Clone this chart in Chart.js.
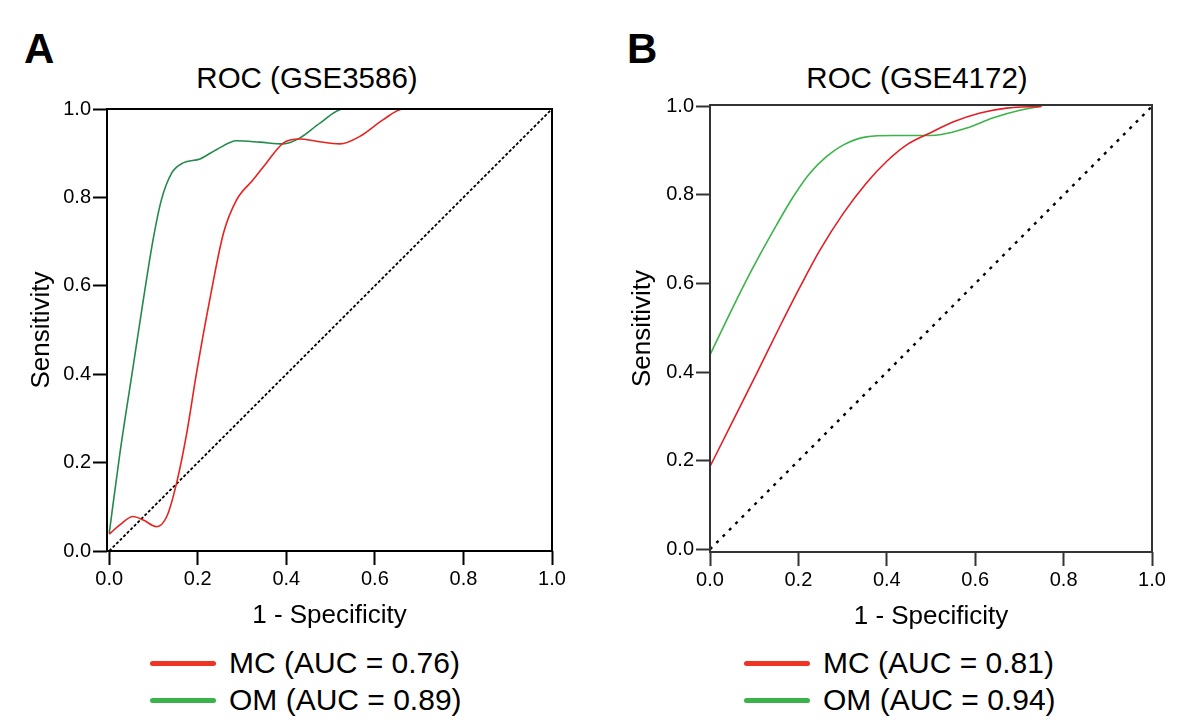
<!DOCTYPE html>
<html>
<head>
<meta charset="utf-8">
<script src="https://cdn.jsdelivr.net/npm/chart.js@4"></script>
<style>
  body { margin: 0; width: 1200px; height: 724px; background: #fff; position: relative; overflow: hidden;
         font-family: "Liberation Sans", Arial, Helvetica, sans-serif; color: #000; }
  canvas { position: absolute; top: 0; }
  .letter { position: absolute; font-weight: bold; font-size: 42px; line-height: 42px; }
  .title { position: absolute; font-size: 29.5px; line-height: 34px; transform: translateX(-50%); white-space: nowrap; }
  .leg { position: absolute; font-size: 30px; line-height: 36px; white-space: nowrap; }
  .swatch { position: absolute; height: 5px; width: 66px; border-radius: 3px; }
</style>
</head>
<body>
<div class="letter" style="left:24px; top:28px;">A</div>
<div class="letter" style="left:627px; top:28px;">B</div>
<div class="title" style="left:307px; top:61px;">ROC (GSE3586)</div>
<div class="title" style="left:917px; top:61px;">ROC (GSE4172)</div>

<canvas id="chartA" width="600" height="640" style="left:0px;"></canvas>
<canvas id="chartB" width="600" height="640" style="left:600px;"></canvas>

<div id="legendA"></div>
<div id="legendB"></div>

<script>
// axis ticks shared by both panels
const tickValues = [0, 0.2, 0.4, 0.6, 0.8, 1.0];
const diagFpr = [0, 1];
const diagTpr = [0, 1];

// Panel A: GSE3586
const mcA_fpr = [0.0, 0.024, 0.054, 0.077, 0.107, 0.13, 0.152, 0.175, 0.197, 0.227, 0.258, 0.288, 0.325, 0.355, 0.393, 0.431, 0.468, 0.521, 0.566, 0.619, 0.664, 0.78];
const mcA_tpr = [0.038, 0.059, 0.078, 0.070, 0.055, 0.078, 0.153, 0.266, 0.402, 0.568, 0.719, 0.795, 0.84, 0.878, 0.923, 0.932, 0.927, 0.921, 0.938, 0.976, 1.0, 1.0];
const omA_fpr = [0.0, 0.024, 0.054, 0.077, 0.099, 0.118, 0.141, 0.167, 0.205, 0.242, 0.288, 0.34, 0.393, 0.43, 0.476, 0.529, 0.6];
const omA_tpr = [0.04, 0.22, 0.417, 0.568, 0.704, 0.795, 0.855, 0.878, 0.887, 0.908, 0.928, 0.925, 0.921, 0.934, 0.968, 1.0, 1.0];
const legendA = ["MC (AUC = 0.76)", "OM (AUC = 0.89)"];

// Panel B: GSE4172
const mcB_fpr = [0, 0.053, 0.106, 0.158, 0.204, 0.249, 0.302, 0.354, 0.4, 0.445, 0.498, 0.551, 0.611, 0.671, 0.75];
const mcB_tpr = [0.187, 0.292, 0.398, 0.503, 0.593, 0.676, 0.759, 0.827, 0.876, 0.913, 0.94, 0.965, 0.985, 0.996, 1.0];
const omB_fpr = [0, 0.038, 0.075, 0.113, 0.151, 0.189, 0.226, 0.264, 0.302, 0.354, 0.415, 0.468, 0.52, 0.581, 0.641, 0.701, 0.75];
const omB_tpr = [0.439, 0.518, 0.593, 0.665, 0.733, 0.797, 0.849, 0.887, 0.913, 0.931, 0.934, 0.934, 0.936, 0.951, 0.974, 0.991, 1.0];
const legendB = ["MC (AUC = 0.81)", "OM (AUC = 0.94)"];

const legendColors = ["#ee3524", "#3bb34a"];
const FONT = "'Liberation Sans', Arial, Helvetica, sans-serif";

function zip(xs, ys) {
  return xs.map((x, i) => ({ x: x, y: ys[i] }));
}

// draws the closed frame round the plot area, over the curves
const frameBox = {
  id: "frameBox",
  afterDatasetsDraw(chart, args, opts) {
    const { ctx, chartArea: a } = chart;
    ctx.save();
    ctx.strokeStyle = opts.color;
    ctx.lineWidth = opts.width;
    ctx.strokeRect(a.left, a.top, a.right - a.left, a.bottom - a.top);
    ctx.restore();
  }
};

function curve(points, color) {
  return {
    data: points, borderColor: color, borderWidth: 1.6, pointRadius: 0,
    showLine: true, cubicInterpolationMode: "monotone", fill: false
  };
}

function axis(min, max, fixSize, titleText, titlePad, lineColor, isX) {
  return {
    type: "linear", min: min, max: max,
    afterBuildTicks: s => { s.ticks = tickValues.map(v => ({ value: v })); },
    afterFit: s => { if (isX) s.height = fixSize; else s.width = fixSize; },
    border: { display: false },
    grid: { display: true, drawOnChartArea: false, drawTicks: true, tickLength: 14, tickWidth: 2, tickColor: lineColor, color: lineColor },
    ticks: { color: "#000", padding: 2, font: { family: FONT, size: 20 }, callback: v => v.toFixed(1), maxRotation: 0 },
    title: { display: true, text: titleText, color: "#000", font: { family: FONT, size: 26 }, padding: titlePad }
  };
}

function makePanel(id, sets, opt) {
  return new Chart(document.getElementById(id), {
    type: "scatter",
    data: { datasets: sets },
    options: {
      responsive: false, animation: false, devicePixelRatio: 1,
      layout: { padding: opt.padding },
      plugins: { legend: { display: false }, tooltip: { enabled: false }, frameBox: { color: opt.lineColor, width: 2 } },
      scales: {
        x: axis(opt.xMin, 1, 80, "1 - Specificity", { top: 0, bottom: 0 }, opt.lineColor, true),
        y: axis(opt.yMin, opt.yMax, opt.yWidth, "Sensitivity", { top: opt.yTitlePad, bottom: 0 }, opt.lineColor, false)
      }
    },
    plugins: [frameBox]
  });
}

function renderLegend(id, left, labels) {
  const el = document.getElementById(id);
  const rows = [663, 700];
  labels.forEach((label, i) => {
    const sw = document.createElement("div");
    sw.className = "swatch";
    sw.style.left = left + "px";
    sw.style.top = (rows[i] - 2.5) + "px";
    sw.style.background = legendColors[i];
    el.appendChild(sw);
    const tx = document.createElement("div");
    tx.className = "leg";
    tx.style.left = (left + 79) + "px";
    tx.style.top = (rows[i] - 18) + "px";
    tx.textContent = label;
    el.appendChild(tx);
  });
}

makePanel("chartA", [
  curve(zip(mcA_fpr, mcA_tpr), "#e8221d"),
  curve(zip(omA_fpr, omA_tpr), "#238a4c"),
  { data: zip(diagFpr, diagTpr), borderColor: "#000", borderWidth: 1.8, borderDash: [3, 2], pointRadius: 0, showLine: true }
], { padding: { left: 0, top: 109, right: 48, bottom: 9 }, xMin: -0.005, yMin: 0, yMax: 1, yWidth: 107, yTitlePad: 26, lineColor: "#000" });

makePanel("chartB", [
  curve(zip(mcB_fpr, mcB_tpr), "#e31e24"),
  curve(zip(omB_fpr, omB_tpr), "#3cb44a"),
  { data: zip(diagFpr, diagTpr), borderColor: "#000", borderWidth: 2.4, borderDash: [3, 6], pointRadius: 0, showLine: true }
], { padding: { left: 0, top: 105, right: 48, bottom: 8 }, xMin: 0, yMin: -0.006, yMax: 1.003, yWidth: 110, yTitlePad: 27, lineColor: "#333" });

renderLegend("legendA", 150, legendA);
renderLegend("legendB", 744, legendB);
</script>
</body>
</html>
